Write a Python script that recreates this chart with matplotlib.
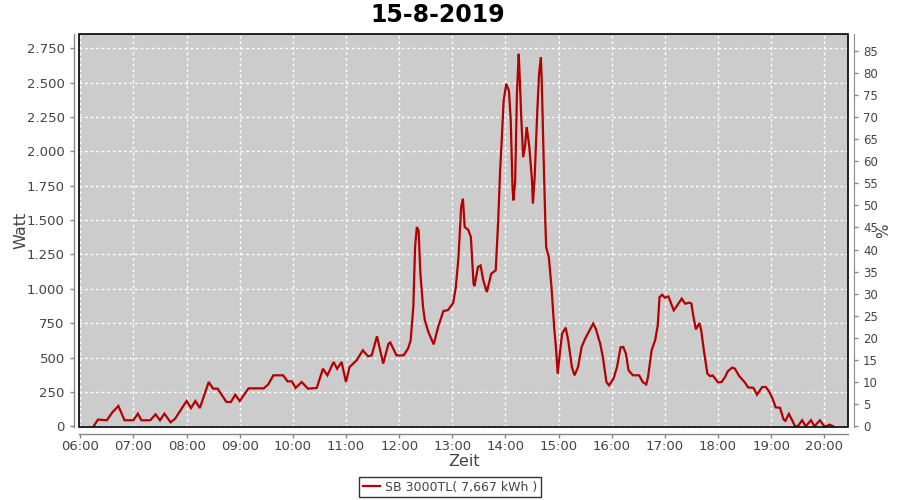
import matplotlib
matplotlib.use("Agg")
import matplotlib.pyplot as plt
from matplotlib.patches import Rectangle
from matplotlib.ticker import FuncFormatter

title = "15-8-2019"
series_label = "SB 3000TL( 7,667 kWh )"
x_label = "Zeit"
y_label = "Watt"
y2_label = "%"

times = ["06:15", "06:20", "06:30", "06:36", "06:43", "06:50", "07:00", "07:05", "07:09", "07:19",
         "07:25", "07:30", "07:35", "07:42", "07:47", "08:00", "08:05", "08:10", "08:15", "08:25",
         "08:30", "08:35", "08:45", "08:50", "08:55", "09:00", "09:10", "09:27", "09:32", "09:38",
         "09:49", "09:54", "09:59", "10:03", "10:10", "10:17", "10:27", "10:34", "10:39", "10:46",
         "10:50", "10:55", "11:00", "11:04", "11:12", "11:19", "11:25", "11:29", "11:35", "11:42",
         "11:48", "11:50", "11:57", "12:05", "12:10", "12:13", "12:16", "12:18", "12:20", "12:22",
         "12:24", "12:27", "12:29", "12:33", "12:39", "12:44", "12:50", "12:55", "13:01", "13:04",
         "13:07", "13:10", "13:12", "13:14", "13:18", "13:21", "13:24", "13:25", "13:29", "13:32",
         "13:35", "13:39", "13:44", "13:49", "13:50", "13:52", "13:54", "13:56", "13:58", "14:01",
         "14:04", "14:06", "14:08", "14:09", "14:11", "14:13", "14:15", "14:16", "14:18", "14:20",
         "14:22", "14:24", "14:27", "14:30", "14:31", "14:33", "14:36", "14:38", "14:40", "14:41",
         "14:43", "14:45", "14:46", "14:49", "14:52", "14:55", "14:57", "14:59", "15:01", "15:04",
         "15:08", "15:11", "15:15", "15:18", "15:22", "15:26", "15:30", "15:35", "15:39", "15:42",
         "15:47", "15:50", "15:54", "15:57", "16:02", "16:06", "16:10", "16:13", "16:16", "16:19",
         "16:24", "16:31", "16:35", "16:39", "16:41", "16:45", "16:49", "16:52", "16:54", "16:57",
         "17:00", "17:04", "17:10", "17:14", "17:19", "17:23", "17:28", "17:30", "17:32", "17:35",
         "17:39", "17:41", "17:44", "17:48", "17:51", "17:54", "18:00", "18:04", "18:08", "18:11",
         "18:16", "18:19", "18:24", "18:30", "18:34", "18:40", "18:44", "18:50", "18:54", "18:58",
         "19:02", "19:05", "19:10", "19:14", "19:16", "19:20", "19:24", "19:27", "19:30", "19:35",
         "19:39", "19:45", "19:49", "19:55", "20:00", "20:02", "20:06", "20:10"]

watts = [0, 49, 44, 100, 148, 44, 44, 92, 44, 44,
         87, 44, 92, 29, 55, 184, 133, 184, 133, 322,
         274, 274, 177, 177, 230, 184, 276, 276, 303, 371,
         371, 327, 327, 279, 322, 274, 279, 419, 371, 468,
         419, 468, 322, 431, 480, 553, 509, 516, 655, 456,
         601, 610, 516, 516, 565, 625, 868, 1304, 1450, 1425,
         1110, 868, 771, 686, 596, 722, 839, 845, 897, 1013,
         1231, 1595, 1656, 1450, 1430, 1377, 1038, 1020, 1159, 1170,
         1062, 977, 1110, 1135, 1256, 1522, 1862, 2104, 2371, 2492,
         2440, 2225, 1740, 1644, 1780, 2420, 2710, 2560, 2225, 1958,
         2031, 2177, 2031, 1789, 1620, 1813, 2298, 2565, 2686, 2516,
         1983, 1498, 1304, 1231, 1013, 722, 577, 383, 504, 674,
         718, 620, 431, 371, 431, 577, 637, 698, 747, 710,
         601, 504, 322, 298, 347, 431, 575, 577, 529, 407,
         371, 371, 322, 305, 359, 553, 625, 735, 940, 957,
         935, 945, 844, 880, 929, 892, 900, 892, 807, 705,
         751, 700, 553, 383, 365, 370, 320, 322, 359, 400,
         427, 420, 365, 322, 283, 280, 230, 286, 286, 250,
         195, 138, 135, 50, 40, 90, 40, 0, 0, 44,
         0, 44, 0, 44, 0, 0, 12, 0]

x_tick_labels = ["06:00", "07:00", "08:00", "09:00", "10:00", "11:00", "12:00", "13:00",
                 "14:00", "15:00", "16:00", "17:00", "18:00", "19:00", "20:00"]
y_ticks = [0, 250, 500, 750, 1000, 1250, 1500, 1750, 2000, 2250, 2500, 2750]
y2_ticks = list(range(0, 90, 5))


def to_minutes(s):
    h, m = s.split(":")
    return int(h) * 60 + int(m)


xs = [to_minutes(t) for t in times]
x_tick_pos = [to_minutes(t) for t in x_tick_labels]

plt.rcParams['font.family'] = ['DejaVu Sans']

fig = plt.figure(figsize=(9, 5), dpi=100)
ax = fig.add_axes([79.3 / 900, 1 - 427 / 500, (848.3 - 79.3) / 900, (427 - 34.3) / 500])
ax.set_facecolor("#cccccc")

ax.plot(xs, watts, color="#b30000", lw=1.6, solid_joinstyle="miter", zorder=3,
        label=series_label)

ax.set_xlim(358.9, 1227.1)
ax.set_ylim(-5, 2852)
ax.set_xticks(x_tick_pos)
ax.set_xticklabels(x_tick_labels)
ax.set_yticks(y_ticks)
ax.yaxis.set_major_formatter(FuncFormatter(lambda v, p: f"{int(v):,}".replace(",", ".")))

ax.grid(True, color="white", linestyle=(0, (2, 2)), linewidth=1.0)
ax.set_axisbelow(True)

axis_grey = "#888888"
label_col = "#444444"
for side in ["top", "right"]:
    ax.spines[side].set_visible(False)
ax.spines["left"].set_position(("outward", 4))
ax.spines["bottom"].set_position(("outward", 5))
for side in ["left", "bottom"]:
    ax.spines[side].set_color(axis_grey)
    ax.spines[side].set_linewidth(1.0)
ax.tick_params(axis="both", colors=axis_grey, labelcolor=label_col, labelsize=9.5,
               length=3, width=1, direction="out")
ax.tick_params(axis="x", pad=1.5)
ax.add_patch(Rectangle((0, 0), 1, 1, transform=ax.transAxes, fill=False, ec="black",
                       lw=1.2, zorder=6, clip_on=False))

ax.set_xlabel(x_label, fontsize=11.5, color=label_col, labelpad=0.5)
ax.set_ylabel(y_label, fontsize=11.5, color=label_col, labelpad=-1)

ax2 = ax.twinx()
ax2.set_ylim(-0.16, 88.7)
ax2.set_yticks(y2_ticks)
for side in ["top", "left", "bottom"]:
    ax2.spines[side].set_visible(False)
ax2.spines["right"].set_position(("outward", 4))
ax2.spines["right"].set_color(axis_grey)
ax2.tick_params(axis="y", colors=axis_grey, labelcolor=label_col, labelsize=8.5,
                length=3, width=1, direction="out")
ax2.set_ylabel(y2_label, fontsize=11, color=label_col, labelpad=-1)

fig.suptitle(title, fontsize=17, fontweight="bold", y=0.993, x=0.486)

handles, labels = ax.get_legend_handles_labels()
leg = fig.legend(handles, labels, loc="center", bbox_to_anchor=(0.5, 0.026), frameon=True,
                 fancybox=False, edgecolor="black", fontsize=9, handlelength=1.4,
                 handletextpad=0.4, borderpad=0.3, borderaxespad=0)
leg.get_frame().set_linewidth(1.0)
for t in leg.get_texts():
    t.set_color(label_col)

fig.savefig("out.png", dpi=100, facecolor="white")
